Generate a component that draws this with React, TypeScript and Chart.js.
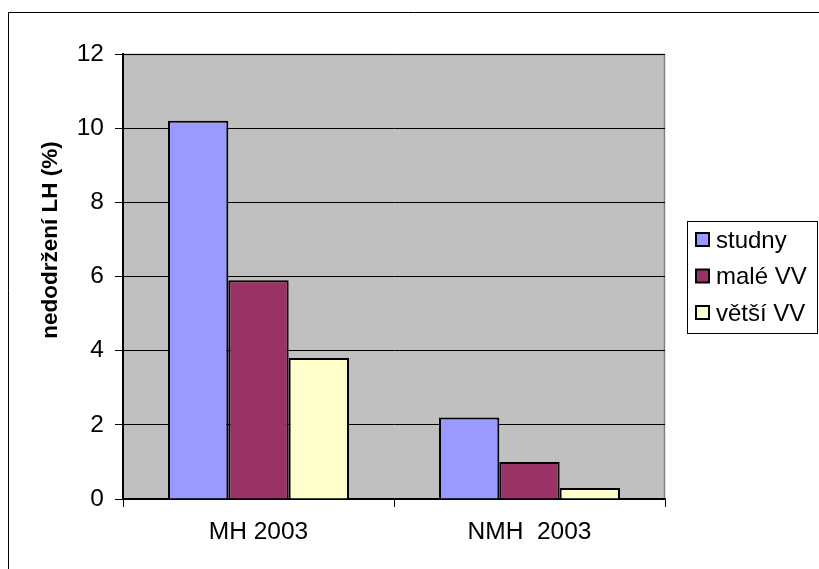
import React, { useEffect, useRef } from "react";
import { Chart, registerables } from "chart.js";

Chart.register(...registerables);

const categories = ["MH 2003", "NMH  2003"];
const seriesNames = ["studny", "malé VV", "větší VV"];
const studny = [10.2, 2.2];
const maleVV = [5.9, 1.0];
const vetsiVV = [3.8, 0.3];
const seriesColors = ["#9999FF", "#993366", "#FFFFCC"];
const yTitle = "nedodržení LH (%)";
const yMax = 12;
const yStep = 2;

const FONT = "'Liberation Sans', Arial, sans-serif";

const framePlugin = {
  id: "frame",
  beforeDraw(chart: any) {
    const { ctx, chartArea } = chart;
    const W = chart.width;
    const H = chart.height;
    ctx.save();
    ctx.fillStyle = "#ffffff";
    ctx.fillRect(0, 0, W, H);
    ctx.strokeStyle = "#000000";
    ctx.lineWidth = 1;
    ctx.beginPath();
    ctx.moveTo(8.5, H);
    ctx.lineTo(8.5, 12.5);
    ctx.lineTo(W, 12.5);
    ctx.stroke();
    ctx.fillStyle = "#C0C0C0";
    ctx.fillRect(chartArea.left, chartArea.top, chartArea.right - chartArea.left, chartArea.bottom - chartArea.top);
    ctx.strokeStyle = "#808080";
    ctx.lineWidth = 1.5;
    ctx.beginPath();
    ctx.moveTo(chartArea.left, chartArea.top + 0.5);
    ctx.lineTo(chartArea.right - 0.5, chartArea.top + 0.5);
    ctx.lineTo(chartArea.right - 0.5, chartArea.bottom);
    ctx.stroke();
    ctx.restore();
  },
  afterDraw(chart: any) {
    const { ctx } = chart;
    ctx.save();
    // y title
    ctx.translate(51, 240);
    ctx.rotate(-Math.PI / 2);
    ctx.font = `bold 22.5px ${FONT}`;
    ctx.fillStyle = "#000";
    ctx.textAlign = "center";
    ctx.textBaseline = "middle";
    ctx.fillText(yTitle, 0, 0);
    ctx.restore();

    // legend
    ctx.save();
    ctx.fillStyle = "#fff";
    ctx.fillRect(687.5, 221.5, 130, 112);
    ctx.strokeStyle = "#000";
    ctx.lineWidth = 1;
    ctx.strokeRect(687.5, 221.5, 130, 112);
    chart.data.datasets.forEach((ds: any, i: number) => {
      const cy = 240 + 36.5 * i;
      ctx.fillStyle = ds.backgroundColor;
      ctx.fillRect(696, cy - 7, 13, 13);
      ctx.strokeStyle = "#000";
      ctx.lineWidth = 2;
      ctx.strokeRect(696, cy - 7, 13, 13);
      ctx.fillStyle = "#000";
      ctx.font = `24px ${FONT}`;
      ctx.textAlign = "left";
      ctx.textBaseline = "middle";
      ctx.fillText(ds.label, 716, cy + 1);
    });
    ctx.restore();
  },
};

export default function App() {
  const ref = useRef<HTMLCanvasElement | null>(null);
  useEffect(() => {
    if (!ref.current) return;
    const seriesValues = [studny, maleVV, vetsiVV];
    const chart = new Chart(ref.current, {
      type: "bar",
      data: {
        labels: categories,
        datasets: seriesNames.map((name, i) => ({
          label: name,
          data: seriesValues[i],
          backgroundColor: seriesColors[i],
          borderColor: "#000000",
          borderWidth: 2,
          borderSkipped: "bottom",
          categoryPercentage: 0.668,
          barPercentage: 1.0,
        })),
      },
      options: {
        responsive: false,
        animation: false,
        layout: { padding: { left: 0, top: 54, right: 154, bottom: 0 } },
        plugins: {
          legend: { display: false },
          tooltip: { enabled: false },
        },
        scales: {
          x: {
            afterFit: (scale: any) => {
              scale.height = 70;
            },
            grid: {
              offset: true,
              drawOnChartArea: false,
              drawTicks: true,
              tickLength: 8,
              color: "#000",
            },
            border: { color: "#000", width: 1.5 },
            ticks: {
              color: "#000",
              font: { family: FONT, size: 24.5 },
              padding: 11,
              maxRotation: 0,
            },
          },
          y: {
            min: 0,
            max: yMax,
            afterFit: (scale: any) => {
              scale.width = 123;
            },
            grid: {
              color: "#000",
              lineWidth: 1,
              drawTicks: true,
              tickLength: 8,
            },
            border: { color: "#000", width: 2 },
            ticks: {
              stepSize: yStep,
              color: "#000",
              font: { family: FONT, size: 24.5 },
              padding: 11,
            },
          },
        },
      },
      plugins: [framePlugin],
    });
    return () => chart.destroy();
  }, []);
  return (
    <div style={{ position: "fixed", left: 0, top: 0, width: 819, height: 569 }}>
      <canvas ref={ref} width={819} height={569} />
    </div>
  );
}
